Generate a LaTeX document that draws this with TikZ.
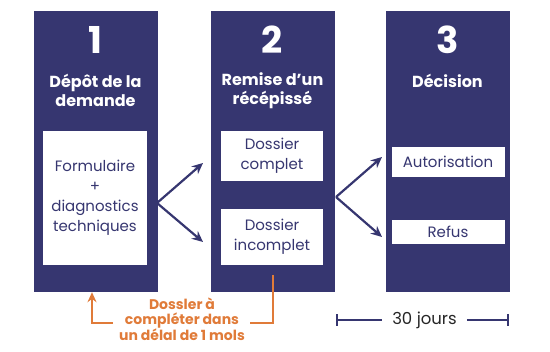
\documentclass[tikz,border=0pt]{standalone}
\usepackage{fontspec}
\setmainfont{Poppins}
\usetikzlibrary{arrows.meta}
\definecolor{navy}{HTML}{363670}
\definecolor{rust}{HTML}{E07B39}

\begin{document}
\begin{tikzpicture}[x=1pt, y=-1pt, >=Stealth,
  col/.style={fill=navy, minimum width=124pt, minimum height=281pt, inner sep=0pt},
  num/.style={text=white, font=\fontsize{37}{37}\selectfont\bfseries},
  ttl/.style={text=white, font=\fontsize{16}{19.5}\selectfont\bfseries, align=center},
  card/.style={fill=white, text=navy, font=\fontsize{15}{20}\selectfont, align=center, inner sep=0pt},
  link/.style={draw=navy, line width=2.2pt, arrows={-Stealth[length=11pt, width=10pt]}},
  back/.style={draw=rust, line width=2pt},
  span/.style={draw=navy, line width=2pt}]
  \useasboundingbox (0,0) rectangle (550,352);
  % the three stages
  \node[col] (c1) at (95.5,151.5) {};
  \node[col] (c2) at (272.5,151.5) {};
  \node[col] (c3) at (447.5,151.5) {};
  \node[num] (n1) at (95.5,40) {1};
  \node[num] (n2) at (272.5,40) {2};
  \node[num] (n3) at (447.5,40) {3};
  \node[ttl] (t1) at (95.5,90.5) {Dépôt de la\\demande};
  \node[ttl] (t2) at (272.5,90.5) {Remise d’un\\récépissé};
  \node[ttl] (t3) at (447.5,81) {Décision};
  % cards
  \node[card, minimum width=104pt, minimum height=134pt] (form) at (95,198) {Formulaire\\+\\diagnostics\\techniques};
  \node[card, minimum width=102pt, minimum height=50pt] (comp) at (272,156) {Dossier\\complet};
  \node[card, minimum width=102pt, minimum height=56pt] (inc) at (272,237) {Dossier\\incomplet};
  \node[card, minimum width=113pt, minimum height=30pt] (aut) at (448,162) {Autorisation};
  \node[card, minimum width=113pt, minimum height=24pt] (ref) at (448,232) {Refus};
  % arrows between stages
  \coordinate (v1) at (157,203);
  \coordinate (v2) at (336,197);
  \draw[link] (v1) -- (203,163);
  \draw[link] (v1) -- (203,242);
  \draw[link] (v2) -- (382,157);
  \draw[link] (v2) -- (382,237);
  % back to stage 1
  \node[text=rust, font=\fontsize{14}{15.5}\selectfont\bfseries, align=center] (dl) at (182,319) {Dossler à\\compléter dans\\un délal de 1 mols};
  \coordinate (o1) at (273,275);
  \coordinate (o2) at (250,323);
  \coordinate (o3) at (113,323);
  \draw[back] (o1) |- (o2);
  \draw[back, -{Stealth[length=10pt, width=9pt]}] (o3) -| ([xshift=-3.5pt]c1.south);
  % delay
  \node[font=\fontsize{16.5}{16.5}\selectfont, text=black!85, inner xsep=10pt] (dur) at (424.5,320) {30 jours};
  \coordinate (d1) at (336,320);
  \coordinate (d2) at (509,320);
  \draw[span, {Bar[width=12pt]}-] (d1) -- (dur.west);
  \draw[span, -{Bar[width=12pt]}] (dur.east) -- (d2);
\end{tikzpicture}
\end{document}
